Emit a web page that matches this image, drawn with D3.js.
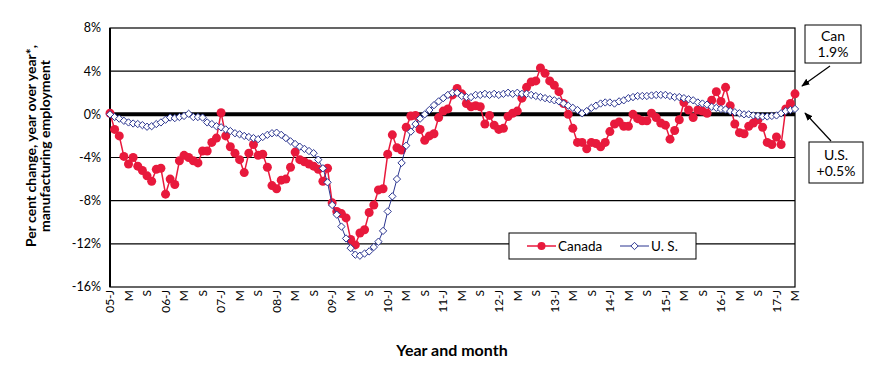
<!DOCTYPE html>
<html>
<head>
<meta charset="utf-8">
<script src="https://cdnjs.cloudflare.com/ajax/libs/d3/7.8.5/d3.min.js"></script>
<style>
  body { margin: 0; background: #fff; }
  text { font-family: Lato, "Open Sans", sans-serif; fill: #000; }
</style>
</head>
<body>
<div id="chart"></div>
<script>
// Years and month letters for the category axis (Jan 2005 - May 2017)
const years = ['05', '06', '07', '08', '09', '10', '11', '12', '13', '14', '15', '16', '17']
const monthLetters = ['J', 'F', 'M', 'A', 'M', 'J', 'J', 'A', 'S', 'O', 'N', 'D']
const lastMonth = 4 // May of the last year

// Per cent change, year over year, manufacturing employment
const canada = [
  0.1, -1.4, -2.0, -3.9, -4.6, -4.0, -4.8, -5.2, -5.7, -6.2, -5.1, -5.0,
  -7.4, -6.0, -6.5, -4.3, -3.8, -4.0, -4.3, -4.5, -3.4, -3.4, -2.6, -2.2,
  0.15, -2.0, -3.0, -3.6, -4.2, -5.4, -3.6, -2.8, -3.8, -3.7, -4.9, -6.6,
  -6.9, -6.1, -6.0, -4.9, -3.5, -4.2, -4.4, -4.6, -4.8, -5.1, -6.2, -5.0,
  -8.2, -9.0, -9.2, -9.6, -11.6, -12.1, -11.0, -10.7, -9.1, -8.4, -7.0, -6.9,
  -3.7, -1.9, -3.1, -3.3, -1.2, -0.15, -0.1, -1.4, -2.4, -2.0, -1.8, -0.3,
  0.3, 0.5, 1.8, 2.4, 1.9, 1.0, 0.7, 0.8, 0.7, -0.9, -0.1, -1.0,
  -1.4, -1.3, -0.2, 0.1, 0.3, 1.5, 2.5, 3.0, 3.1, 4.3, 3.8, 3.1,
  2.7, 2.1, 1.0, 0.0, -1.3, -2.6, -2.6, -3.2, -2.6, -2.7, -3.0, -2.6,
  -1.6, -0.9, -0.7, -1.1, -1.1, 0.0, -0.4, -0.6, -0.6, 0.1, -0.3, -0.8,
  -1.0, -2.3, -1.5, -0.5, 1.1, 0.4, -0.3, 0.4, 0.3, 0.1, 1.3, 2.1,
  1.2, 2.5, 0.8, -0.9, -1.7, -1.8, -1.1, -0.8, -0.5, -1.2, -2.6, -2.8,
  -2.1, -2.8, 0.5, 1.0, 1.9
]

const us = [
  0.0, -0.25, -0.4, -0.6, -0.75, -0.85, -0.9, -1.0, -1.15, -1.1, -0.9, -0.75,
  -0.5, -0.3, -0.35, -0.25, -0.15, 0.05, -0.25, -0.25, -0.3, -0.75, -0.9, -1.1,
  -1.2, -1.4, -1.55, -1.75, -1.85, -2.0, -2.1, -2.2, -2.3, -2.1, -1.9, -1.75,
  -1.7, -1.9, -2.2, -2.5, -2.75, -3.0, -3.2, -3.4, -3.6, -4.2, -5.0, -6.3,
  -8.4, -9.3, -10.4, -11.5, -12.4, -13.0, -13.1, -12.9, -12.7, -12.3, -11.8, -10.8,
  -9.0, -7.6, -6.0, -4.5, -2.9, -1.6, -0.9, -0.4, 0.0, 0.4, 0.85, 1.2,
  1.5, 1.8, 2.0, 2.0, 1.7, 1.6, 1.6, 1.8, 1.8, 1.9, 1.8, 1.9,
  1.8, 1.9, 2.0, 1.9, 2.0, 1.9, 1.9, 1.8, 1.7, 1.6, 1.5, 1.4,
  1.3, 1.2, 1.0, 0.8, 0.6, 0.4, 0.1, 0.3, 0.6, 0.8, 1.0, 1.1,
  1.1, 1.0, 1.2, 1.3, 1.5, 1.6, 1.7, 1.7, 1.7, 1.75, 1.8, 1.8,
  1.8, 1.7, 1.6, 1.6, 1.5, 1.4, 1.3, 1.1, 1.0, 0.9, 0.7, 0.6,
  0.5, 0.45, 0.3, 0.2, 0.1, 0.0, 0.0, -0.1, -0.15, -0.2, -0.2, -0.15,
  -0.1, 0.1, 0.3, 0.4, 0.5
]

const yTicks = [8, 4, 0, -4, -8, -12, -16]
const seriesNames = ['Canada', 'U. S.']
const lastLabels = { canada: ['Can', '1.9%'], us: ['U.S.', '+0.5%'] }

// Build the category list
const categories = []
years.forEach((yr, yi) => {
  monthLetters.forEach((m, mi) => {
    if (yi === years.length - 1 && mi > lastMonth) return
    categories.push({ yr, m, mi, i: categories.length })
  })
})

// Set dimensions
const dimensions = {
  width: 870,
  height: 371,
  margins: { top: 28, right: 75, bottom: 84, left: 110 }
}
dimensions.boundedWidth = dimensions.width - dimensions.margins.left - dimensions.margins.right
dimensions.boundedHeight = dimensions.height - dimensions.margins.top - dimensions.margins.bottom

const wrapper = d3.select('#chart').append('svg')
  .attr('width', dimensions.width)
  .attr('height', dimensions.height)

const bounds = wrapper.append('g')
  .attr('transform', `translate(${dimensions.margins.left}, ${dimensions.margins.top})`)

// Scales
const xScale = d3.scalePoint()
  .domain(categories.map(d => d.i))
  .range([0, dimensions.boundedWidth])

const yScale = d3.scaleLinear()
  .domain([-16, 8])
  .range([dimensions.boundedHeight, 0])

// Gridlines
bounds.selectAll('.grid')
  .data(yTicks.filter(d => d !== 0 && d !== 8 && d !== -16))
  .enter().append('line')
    .attr('x1', 0)
    .attr('x2', dimensions.boundedWidth)
    .attr('y1', d => yScale(d))
    .attr('y2', d => yScale(d))
    .attr('stroke', '#000')
    .attr('stroke-width', 1.2)

// Plot frame
bounds.append('rect')
  .attr('width', dimensions.boundedWidth)
  .attr('height', dimensions.boundedHeight)
  .attr('fill', 'none')
  .attr('stroke', '#000')
  .attr('stroke-width', 1.2)

bounds.append('line')
  .attr('x1', 0).attr('x2', 0)
  .attr('y1', 0).attr('y2', dimensions.boundedHeight)
  .attr('stroke', '#000')
  .attr('stroke-width', 2)

// Zero line
bounds.append('line')
  .attr('x1', 0)
  .attr('x2', dimensions.boundedWidth)
  .attr('y1', yScale(0))
  .attr('y2', yScale(0))
  .attr('stroke', '#000')
  .attr('stroke-width', 4)

// Y axis labels
bounds.selectAll('.ytick')
  .data(yTicks)
  .enter().append('text')
    .attr('x', -9)
    .attr('y', d => yScale(d))
    .attr('dy', '0.35em')
    .attr('text-anchor', 'end')
    .style('font-size', '12.5px')
    .text(d => `${d}%`)

// X axis labels, every 4 months
bounds.selectAll('.xtick')
  .data(categories.filter(d => d.i % 4 === 0))
  .enter().append('text')
    .attr('transform', d => `translate(${xScale(d.i)}, ${dimensions.boundedHeight + 3}) rotate(-90)`)
    .attr('dy', '0.35em')
    .attr('text-anchor', 'end')
    .style('font-size', '12px')
    .text(d => d.mi === 0 ? `${d.yr}-J` : d.m)

// Lines
const canColor = '#e8193c'
const usColor = '#2b3590'

const lineGen = d3.line()
  .x((d, i) => xScale(i))
  .y(d => yScale(d))

bounds.append('path')
  .datum(canada)
  .attr('d', lineGen)
  .attr('fill', 'none')
  .attr('stroke', canColor)
  .attr('stroke-width', 1.5)

bounds.selectAll('.can-dot')
  .data(canada)
  .enter().append('circle')
    .attr('cx', (d, i) => xScale(i))
    .attr('cy', d => yScale(d))
    .attr('r', 4.5)
    .attr('fill', canColor)

bounds.append('path')
  .datum(us)
  .attr('d', lineGen)
  .attr('fill', 'none')
  .attr('stroke', usColor)
  .attr('stroke-width', 1)

const diamond = d3.symbol().type(d3.symbolDiamond2).size(34)

bounds.selectAll('.us-dot')
  .data(us)
  .enter().append('path')
    .attr('d', diamond)
    .attr('transform', (d, i) => `translate(${xScale(i)}, ${yScale(d)})`)
    .attr('fill', '#fff')
    .attr('stroke', usColor)
    .attr('stroke-width', 1)

// Legend
const legend = wrapper.append('g')
  .attr('transform', 'translate(509, 233)')

legend.append('rect')
  .attr('width', 187)
  .attr('height', 26)
  .attr('fill', '#fff')
  .attr('stroke', '#000')
  .attr('stroke-width', 1)

const legendItems = [
  { name: seriesNames[0], color: canColor, x: 18, type: 'circle' },
  { name: seriesNames[1], color: usColor, x: 111, type: 'diamond' }
]

legendItems.forEach(item => {
  const g = legend.append('g').attr('transform', `translate(${item.x}, 13)`)
  g.append('line')
    .attr('x1', 0).attr('x2', 29)
    .attr('stroke', item.color)
    .attr('stroke-width', item.type === 'circle' ? 1.5 : 1)
  if (item.type === 'circle') {
    g.append('circle').attr('cx', 14.5).attr('r', 4).attr('fill', item.color)
  } else {
    g.append('path').attr('d', diamond).attr('transform', 'translate(14.5, 0)')
      .attr('fill', '#fff').attr('stroke', item.color)
  }
  g.append('text')
    .attr('x', 31)
    .attr('dy', '0.35em')
    .style('font-size', '13.5px')
    .text(item.name)
})

// Callouts
const defs = wrapper.append('defs')
defs.append('marker')
  .attr('id', 'arrow')
  .attr('viewBox', '0 0 10 10')
  .attr('refX', 9).attr('refY', 5)
  .attr('markerWidth', 7).attr('markerHeight', 7)
  .attr('orient', 'auto')
  .append('path')
    .attr('d', 'M0,1 L10,5 L0,9 z')
    .attr('fill', '#000')

const callouts = [
  { lines: lastLabels.canada, box: [805, 25, 56, 38], from: [830, 66], to: [802, 86] },
  { lines: lastLabels.us, box: [809, 142, 54, 41], from: [831, 141], to: [805, 113] }
]

callouts.forEach(c => {
  wrapper.append('rect')
    .attr('x', c.box[0]).attr('y', c.box[1])
    .attr('width', c.box[2]).attr('height', c.box[3])
    .attr('fill', '#fff')
    .attr('stroke', '#000')
  c.lines.forEach((t, k) => {
    wrapper.append('text')
      .attr('x', c.box[0] + c.box[2] / 2)
      .attr('y', c.box[1] + c.box[3] / 2 + (k === 0 ? -3 : 13))
      .attr('text-anchor', 'middle')
      .style('font-size', '14px')
      .text(t)
  })
  wrapper.append('line')
    .attr('x1', c.from[0]).attr('y1', c.from[1])
    .attr('x2', c.to[0]).attr('y2', c.to[1])
    .attr('stroke', '#000')
    .attr('stroke-width', 1.2)
    .attr('marker-end', 'url(#arrow)')
})

// Axis titles
const yTitle = wrapper.append('text')
  .attr('transform', 'translate(38, 146) rotate(-90)')
  .attr('text-anchor', 'middle')
  .style('font-size', '14px')
  .style('font-weight', 'bold')

yTitle.append('tspan').attr('x', 0).attr('dy', '-0.15em').text('Per cent change, year over year*,')
yTitle.append('tspan').attr('x', 0).attr('dy', '1.0em').text('manufacturing employment')

wrapper.append('text')
  .attr('x', 452)
  .attr('y', 356)
  .attr('text-anchor', 'middle')
  .style('font-size', '16px')
  .style('font-weight', 'bold')
  .text('Year and month')
</script>
</body>
</html>
